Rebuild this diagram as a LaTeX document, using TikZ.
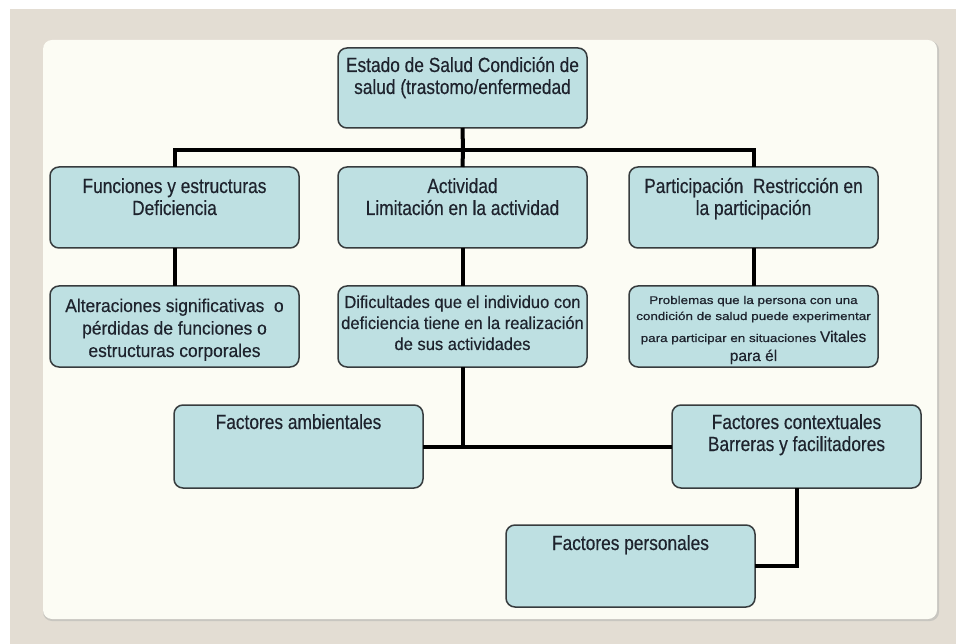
\documentclass[tikz,border=0pt]{standalone}
\usepackage{fontspec}
\setmainfont{Liberation Sans}
\newfontfamily\fmain[FakeStretch=0.845,FakeBold=0.4]{Liberation Sans}
\newfontfamily\falt[FakeStretch=0.94,FakeBold=0.4]{Liberation Sans}
\newfontfamily\fdif[FakeStretch=0.95,FakeBold=0.4]{Liberation Sans}
\newfontfamily\fbig[FakeBold=0.4]{Liberation Sans}
\newfontfamily\fpro[FakeStretch=1.2,FakeBold=0.6]{Liberation Sans}
\newcommand{\mainsz}{\fmain\fontsize{20.5}{22}\selectfont}
\newcommand{\altsz}{\falt\fontsize{18.5}{22.5}\selectfont}
\newcommand{\difsz}{\fdif\fontsize{17.4}{21}\selectfont}
\newcommand{\prosz}{\fpro\fontsize{11.2}{16}\selectfont}
\newcommand{\bigsz}{\fbig\fontsize{15.5}{16}\selectfont}
% #1 box height, #2 first baseline, #3 font, #4 text
\newcommand{\bx}[4]{\parbox[c][#1][t]{249pt}{\centering#3\rule{0pt}{#2}#4}}
\definecolor{pagebg}{RGB}{227,221,211}
\definecolor{panel}{RGB}{252,252,244}
\definecolor{panelshadow}{RGB}{200,198,192}
\definecolor{boxfill}{RGB}{190,224,226}
\definecolor{boxline}{RGB}{55,60,62}
\definecolor{txt}{RGB}{30,35,45}
\begin{document}
\begin{tikzpicture}[x=1pt,y=-1pt,
  box/.style={draw=boxline, fill=boxfill, rounded corners=9pt, line width=1.5pt,
    inner sep=0pt, outer sep=0pt, anchor=north west, text=txt},
  conn/.style={line width=4pt, black}]
\useasboundingbox (0,0) rectangle (956,644);
\fill[white] (0,0) rectangle (956,644);
\fill[pagebg] (10,9) rectangle (956,644);
\fill[panelshadow, rounded corners=9pt] (43,41) rectangle (939,621);
\fill[panel, rounded corners=9pt] (43,40) rectangle (937,619);

\node[box] (top) at (338,48) {\bx{80pt}{24pt}{\mainsz}{Estado de Salud Condición de\\salud (trastomo/enfermedad}};
\node[box] (fun) at (50,167) {\bx{81pt}{26pt}{\mainsz}{Funciones y estructuras\\Deficiencia}};
\node[box] (act) at (338,167) {\bx{81pt}{26pt}{\mainsz}{Actividad\\Limitación en la actividad}};
\node[box] (par) at (629,167) {\bx{81pt}{26pt}{\mainsz}{Participación~ Restricción en\\la participación}};
\node[box] (alt) at (50,286) {\bx{81pt}{26pt}{\altsz}{Alteraciones significativas~ o\\pérdidas de funciones o\\estructuras corporales}};
\node[box] (dif) at (338,286) {\bx{81pt}{22pt}{\difsz}{Dificultades que el individuo con\\deficiencia tiene en la realización\\de sus actividades}};
\node[box] (pro) at (629,286) {\bx{81pt}{18pt}{\prosz}{Problemas que la persona con una\\condición de salud puede experimentar\\[6pt]para participar en situaciones {\bigsz Vitales}\\[3pt]{\bigsz para él}}};
\node[box] (amb) at (174,405) {\bx{83pt}{24pt}{\mainsz}{Factores ambientales}};
\node[box] (ctx) at (672,405) {\bx{83pt}{24pt}{\mainsz}{Factores contextuales\\Barreras y facilitadores}};
\node[box] (per) at (506,525) {\bx{82pt}{25pt}{\mainsz}{Factores personales}};

\coordinate (bus) at (463,150);
\draw[conn] (top.south) -- (bus);
\draw[conn] (fun.north) |- (bus);
\draw[conn] (par.north) |- (bus);
\draw[conn] (act.north) -- (bus);
\draw[conn] (fun.south) -- (alt.north);
\draw[conn] (act.south) -- (dif.north);
\draw[conn] (par.south) -- (pro.north);
\draw[conn] (amb.east) -- (ctx.west);
\draw[conn] (dif.south) -- (dif.south |- amb.east);
\draw[conn] (ctx.south) |- (per.east);
\end{tikzpicture}
\end{document}
